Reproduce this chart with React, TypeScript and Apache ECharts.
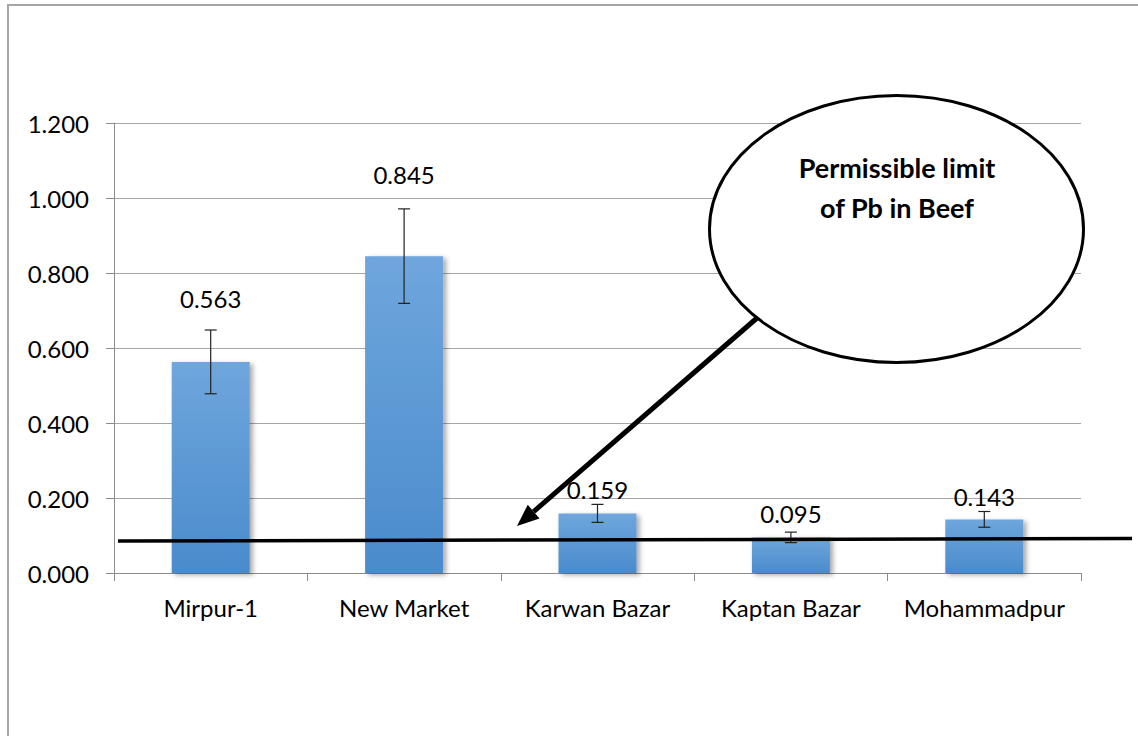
import React, { useEffect, useRef } from "react";
import * as echarts from "echarts";

const categories = ["Mirpur-1", "New Market", "Karwan Bazar", "Kaptan Bazar", "Mohammadpur"];
const meanValues = [0.563, 0.845, 0.159, 0.095, 0.143];
const errorValues = [0.085, 0.126, 0.024, 0.014, 0.021];
const yTicks = [0, 0.2, 0.4, 0.6, 0.8, 1.0, 1.2];
const limitStart = 0.0853;
const limitEnd = 0.092;
const calloutLines = ["Permissible limit", "of Pb in Beef"];
// label lift above bar (styling)
const labelLift = [51, 70, 12, 12, 11];

const FONT = "Lato, 'Open Sans', sans-serif";

export default function App() {
  const ref = useRef<HTMLDivElement>(null);
  useEffect(() => {
    if (!ref.current) return;
    const chart = echarts.init(ref.current, undefined, { renderer: "svg" });
    const option: any = {
      animation: false,
      backgroundColor: "#ffffff",
      grid: { left: 114, right: 57, top: 123, bottom: 163 },
      xAxis: {
        type: "category",
        data: categories,
        axisLine: { show: true, lineStyle: { color: "#8c8c8c", width: 1 } },
        axisTick: { show: true, length: 8, lineStyle: { color: "#8c8c8c" } },
        axisLabel: { color: "#000", fontFamily: FONT, fontSize: 24, margin: 22, interval: 0, hideOverlap: false },
      },
      yAxis: {
        type: "value",
        min: yTicks[0],
        max: yTicks[yTicks.length - 1],
        interval: 0.2,
        axisLine: { show: true, lineStyle: { color: "#8c8c8c", width: 1 } },
        axisTick: { show: true, length: 8, lineStyle: { color: "#8c8c8c" } },
        splitLine: { show: true, lineStyle: { color: "#a6a6a6", width: 1 } },
        axisLabel: {
          color: "#000",
          fontFamily: FONT,
          fontSize: 24,
          margin: 25,
          formatter: (v: number) => v.toFixed(3),
        },
      },
      series: [
        {
          type: "bar",
          barWidth: 78,
          data: meanValues.map((v, i) => ({
            value: v,
            label: {
              show: true,
              position: "top",
              distance: labelLift[i],
              color: "#000",
              fontFamily: FONT,
              fontSize: 24,
              formatter: (p: any) => p.value.toFixed(3),
            },
          })),
          itemStyle: {
            color: new echarts.graphic.LinearGradient(0, 0, 0, 1, [
              { offset: 0, color: "#6fa6dd" },
              { offset: 1, color: "#4a8bcc" },
            ]),
            shadowBlur: 5,
            shadowOffsetX: 3,
            shadowOffsetY: 2,
            shadowColor: "rgba(0,0,0,0.35)",
          },
          z: 2,
        },
        {
          type: "custom",
          z: 3,
          data: meanValues.map((v, i) => [i, v - errorValues[i], v + errorValues[i]]),
          renderItem: (params: any, api: any) => {
            const x = api.value(0);
            const lo = api.coord([x, api.value(1)]);
            const hi = api.coord([x, api.value(2)]);
            const cap = 6;
            const style = { stroke: "#222", lineWidth: 1.2 };
            return {
              type: "group",
              children: [
                { type: "line", shape: { x1: lo[0], y1: lo[1], x2: hi[0], y2: hi[1] }, style },
                { type: "line", shape: { x1: hi[0] - cap, y1: hi[1], x2: hi[0] + cap, y2: hi[1] }, style },
                { type: "line", shape: { x1: lo[0] - cap, y1: lo[1], x2: lo[0] + cap, y2: lo[1] }, style },
              ],
            };
          },
        },
      ],
    };
    chart.setOption(option);

    const yL = chart.convertToPixel({ yAxisIndex: 0 }, limitStart) as number;
    const yR = chart.convertToPixel({ yAxisIndex: 0 }, limitEnd) as number;

    // arrow
    const ax1 = 757, ay1 = 318, ax2 = 517, ay2 = 526;
    const ang = Math.atan2(ay2 - ay1, ax2 - ax1);
    const headLen = 22, headW = 9;
    const bx = ax2 - headLen * Math.cos(ang);
    const by = ay2 - headLen * Math.sin(ang);
    const px = -Math.sin(ang), py = Math.cos(ang);

    const calloutStyle = {
      fontFamily: FONT,
      fontWeight: "bold",
      fontSize: 27,
      fill: "#000",
      align: "center",
      verticalAlign: "middle",
    };

    chart.setOption({
      graphic: [
        {
          type: "rect",
          shape: { x: 8, y: 5, width: 1140, height: 740 },
          style: { fill: "none", stroke: "#a6a6a6", lineWidth: 2 },
          z: 100,
        },
        {
          type: "line",
          shape: { x1: 118, y1: yL, x2: 1132, y2: yR },
          style: { stroke: "#000", lineWidth: 3.5 },
          z: 100,
        },
        {
          type: "line",
          shape: { x1: ax1, y1: ay1, x2: bx, y2: by },
          style: { stroke: "#000", lineWidth: 5 },
          z: 100,
        },
        {
          type: "polygon",
          shape: {
            points: [
              [ax2, ay2],
              [bx + px * headW, by + py * headW],
              [bx - px * headW, by - py * headW],
            ],
          },
          style: { fill: "#000" },
          z: 100,
        },
        {
          type: "ellipse",
          shape: { cx: 896.5, cy: 229, rx: 187, ry: 133.5 },
          style: { fill: "#fff", stroke: "#000", lineWidth: 3 },
          z: 101,
        },
        {
          type: "text",
          x: 897,
          y: 167,
          style: { ...calloutStyle, text: calloutLines[0] },
          z: 102,
        },
        {
          type: "text",
          x: 897,
          y: 207,
          style: { ...calloutStyle, text: calloutLines[1] },
          z: 102,
        },
      ],
    });
    return () => chart.dispose();
  }, []);
  return (
    <div
      ref={ref}
      style={{ position: "absolute", left: 0, top: 0, width: 1138, height: 736 }}
    />
  );
}
